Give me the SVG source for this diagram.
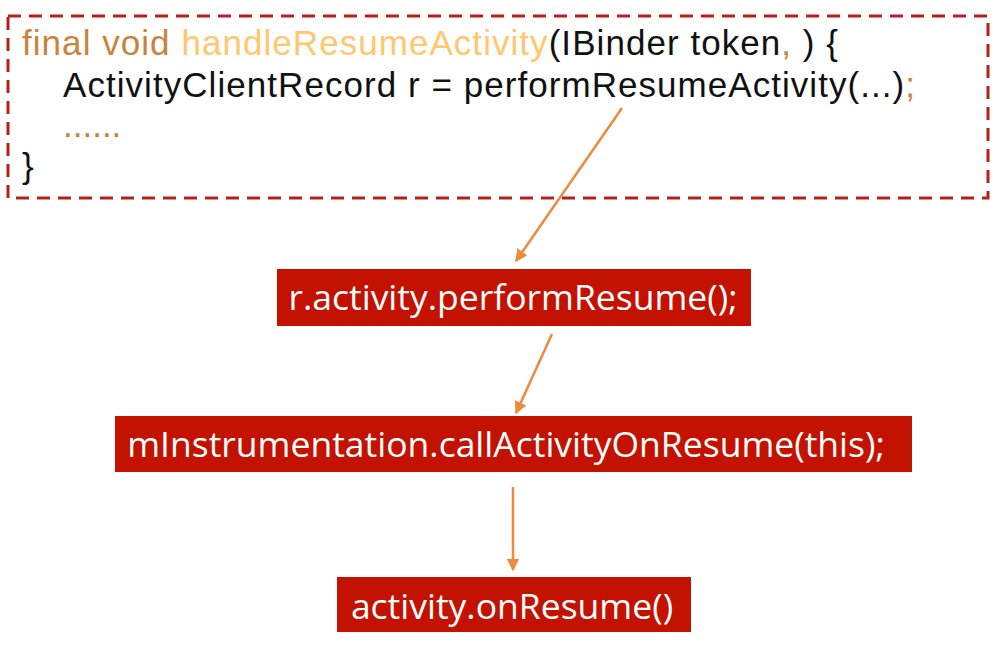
<svg xmlns="http://www.w3.org/2000/svg" width="1004" height="649" viewBox="0 0 1004 649">
<defs>
<style>
.code{font-family:"Liberation Sans","Open Sans",sans-serif;font-size:35px;fill:#111}
.kw{fill:#C8843E}
.fn{fill:#FFC76E}
.box{fill:#C41200}
.lbl{font-family:"Open Sans","Noto Sans",sans-serif;font-size:35.5px;fill:#fff;text-anchor:middle}
.conn{stroke:#EE8A3C;stroke-width:2.5;fill:none}
</style>
<marker id="ah" viewBox="0 0 10 10" refX="9" refY="5" markerWidth="5" markerHeight="5" orient="auto">
<path d="M0,0 L10,5 L0,10 z" fill="#EE8A3C"/>
</marker>
</defs>
<rect width="1004" height="649" fill="#fff"/>
<g id="code-block">
<rect x="8" y="16" width="980" height="182" fill="none" stroke="#B5211A" stroke-width="3" stroke-dasharray="13,8"/>
<text class="code" x="22" y="55" textLength="816" lengthAdjust="spacing"><tspan class="kw">final void </tspan><tspan class="fn">handleResumeActivity</tspan>(IBinder token<tspan class="kw">,</tspan> ) {</text>
<text class="code" x="63" y="97" textLength="852" lengthAdjust="spacing">ActivityClientRecord r = performResumeActivity(...)<tspan class="kw">;</tspan></text>
<text class="code kw" x="63" y="137">......</text>
<text class="code" x="22" y="178">}</text>
</g>
<g id="connectors">
<line class="conn" x1="622" y1="108" x2="516" y2="261" marker-end="url(#ah)"/>
<line class="conn" x1="552" y1="334" x2="516" y2="413" marker-end="url(#ah)"/>
<line class="conn" x1="513" y1="487" x2="513" y2="570" marker-end="url(#ah)"/>
</g>
<g id="node-performResume">
<rect class="box" x="277" y="269" width="474" height="57"/>
<text class="lbl" x="513" y="310">r.activity.performResume();</text>
</g>
<g id="node-callActivityOnResume">
<rect class="box" x="115" y="416" width="797" height="56"/>
<text class="lbl" x="506" y="457">mInstrumentation.callActivityOnResume(this);</text>
</g>
<g id="node-onResume">
<rect class="box" x="337" y="577" width="354" height="55"/>
<text class="lbl" x="512" y="619">activity.onResume()</text>
</g>
</svg>
